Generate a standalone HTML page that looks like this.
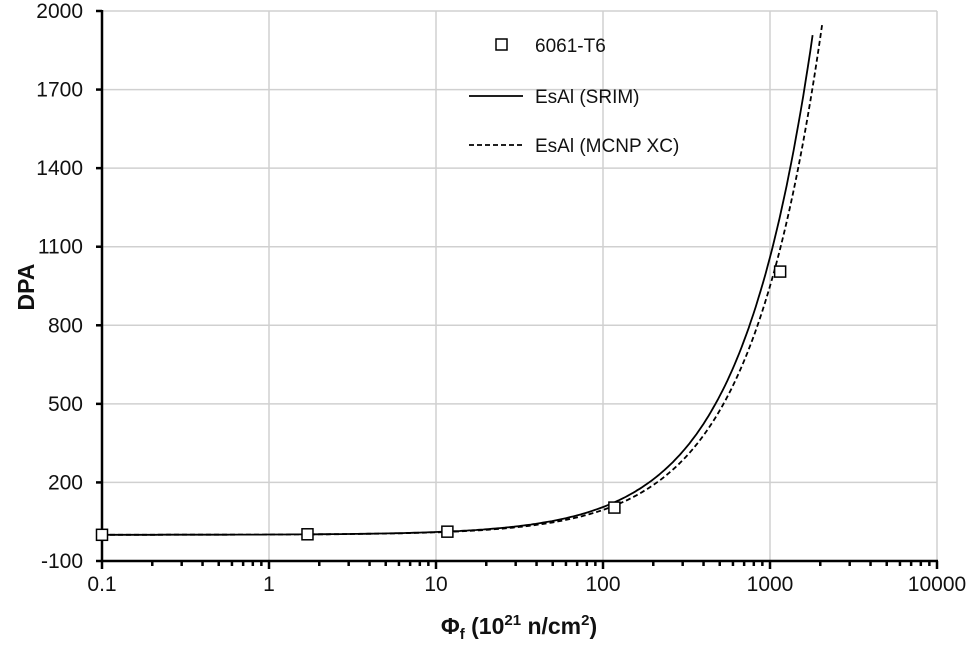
<!DOCTYPE html>
<html><head><meta charset="utf-8"><style>
body{margin:0;background:#fff;}
text{font-family:"Liberation Sans",Arial,sans-serif;fill:#111;}
</style></head><body>
<svg id="s" width="970" height="641" viewBox="0 0 970 641" xmlns="http://www.w3.org/2000/svg">
<g id="grid" stroke="#d0d0d0" stroke-width="1.5"></g>
<g id="ax" stroke="#000" stroke-width="2.5"></g>
<g id="lab" font-size="21" text-anchor="end"></g>
<g id="series"></g>
<text x="34" y="287" font-size="23" font-weight="bold" transform="rotate(-90 34 287)" text-anchor="middle">DPA</text>
<text x="519" y="634" font-size="23" font-weight="bold" text-anchor="middle">Φ<tspan font-size="15" dy="5">f</tspan><tspan dy="-5"> (10</tspan><tspan font-size="15" dy="-9">21</tspan><tspan dy="9"> n/cm</tspan><tspan font-size="15" dy="-9">2</tspan><tspan dy="9">)</tspan></text>
<rect x="496" y="39" width="11" height="11" fill="#fff" stroke="#000" stroke-width="1.5"/>
<text x="535" y="52" font-size="19">6061-T6</text>
<line x1="469" y1="96" x2="523" y2="96" stroke="#000" stroke-width="1.8"/>
<text x="535" y="103" font-size="19">EsAl (SRIM)</text>
<line x1="469" y1="145" x2="523" y2="145" stroke="#000" stroke-width="1.8" stroke-dasharray="5,3"/>
<text x="535" y="152" font-size="19">EsAl (MCNP XC)</text>
</svg>
<script>
var NS="http://www.w3.org/2000/svg";
function X(p){return 102+167*(Math.log10(p)+1);}
function Y(d){return 561-(d+100)*550/2100;}
function el(t,a,par){var e=document.createElementNS(NS,t);for(var k in a)e.setAttribute(k,a[k]);document.getElementById(par).appendChild(e);return e;}
for(var d=-100;d<=2000;d+=300){var y=Y(d);
 if(d>-100)el('line',{x1:102,y1:y,x2:937,y2:y},'grid');
 el('line',{x1:96,y1:y,x2:102,y2:y},'ax');
 var t=el('text',{x:83,y:y+7},'lab');t.textContent=d;}
var labs=['0.1','1','10','100','1000','10000'];
for(var i=0;i<=5;i++){var x=102+167*i;
 if(i>0)el('line',{x1:x,y1:11,x2:x,y2:561},'grid');
 var t=el('text',{x:x,y:591,'text-anchor':'middle'},'lab');t.textContent=labs[i];
 el('line',{x1:x,y1:561,x2:x,y2:569},'ax');
 if(i<5)for(var m=2;m<=9;m++){var xm=x+167*Math.log10(m);el('line',{x1:xm,y1:561,x2:xm,y2:566},'ax');}}
el('line',{x1:102,y1:10,x2:102,y2:562},'ax');
el('line',{x1:101,y1:561,x2:938,y2:561},'ax');
function curve(k,pmax,dash){var s='';for(var i=0;i<=300;i++){var p=Math.pow(10,-1+(Math.log10(pmax)+1)*i/300);s+=(i?'L':'M')+X(p).toFixed(1)+','+Y(k*p).toFixed(1);}
 var a={d:s,fill:'none',stroke:'#000','stroke-width':1.8};if(dash)a['stroke-dasharray']='5,3';el('path',a,'series');}
curve(1.06,1800,false);curve(0.95,2050,true);
[[0.1,0],[1.7,2],[11.7,12],[117,104],[1150,1005]].forEach(function(q){el('rect',{x:X(q[0])-5.5,y:Y(q[1])-5.5,width:11,height:11,fill:'#fff',stroke:'#000','stroke-width':1.5},'series');});
</script>
</body></html>
